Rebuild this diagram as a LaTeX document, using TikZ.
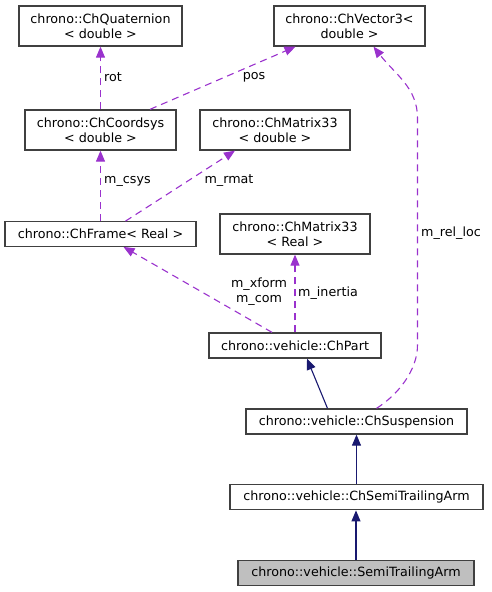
\documentclass[tikz,border=0pt]{standalone}
\usepackage{fontspec}
\setmainfont{DejaVu Sans}
\usepackage{xcolor}
\usetikzlibrary{arrows.meta,positioning,calc}
\definecolor{depviolet}{HTML}{9A32CD}
\definecolor{inhnavy}{HTML}{191970}
\definecolor{boxgray}{HTML}{404040}

\begin{document}
\begin{tikzpicture}[
    x=1pt, y=-1pt,
    cbox/.style={rectangle, draw=boxgray, line width=1.3pt, inner sep=0pt, align=center, font=\fontsize{12.7}{15}\selectfont},
    dep/.style={-{Triangle[length=11pt,width=9pt]}, depviolet, dashed, dash pattern=on 7pt off 5pt, line width=1.1pt},
    inh/.style={-{Triangle[length=11pt,width=9pt]}, inhnavy, line width=1.1pt},
    lbl/.style={font=\fontsize{12.7}{15}\selectfont, inner sep=1pt, align=center}
]
\useasboundingbox (0,0) rectangle (491,592);

% classes
\node[cbox, minimum width=163pt, minimum height=40pt] (quat) at (100.5, 26) {chrono::ChQuaternion\\< double >};
\node[cbox, minimum width=151pt, minimum height=40pt] (vec) at (349.5, 26) {chrono::ChVector3<\\double >};
\node[cbox, minimum width=151pt, minimum height=40pt] (csys) at (100.5, 130) {chrono::ChCoordsys\\< double >};
\node[cbox, minimum width=150pt, minimum height=40pt] (matd) at (275, 130) {chrono::ChMatrix33\\< double >};
\node[cbox, minimum width=191pt, minimum height=24.5pt] (frame) at (100.5, 234) {chrono::ChFrame< Real >};
\node[cbox, minimum width=150pt, minimum height=40pt] (matr) at (295, 234) {chrono::ChMatrix33\\< Real >};
\node[cbox, minimum width=172pt, minimum height=25pt] (part) at (295, 345.5) {chrono::vehicle::ChPart};
\node[cbox, minimum width=221pt, minimum height=25pt] (susp) at (356.5, 421.5) {chrono::vehicle::ChSuspension};
\node[cbox, minimum width=253pt, minimum height=25.5pt] (semi) at (356.5, 497) {chrono::vehicle::ChSemiTrailingArm};
\node[cbox, fill=gray!50, minimum width=236pt, minimum height=25.5pt] (arm) at (356, 573) {chrono::vehicle::SemiTrailingArm};

% members
\draw[dep] (csys.north) -- (quat.south);
\draw[dep] ([xshift=49.5pt]csys.north) -- ([xshift=-54pt]vec.south);
\draw[dep] (frame.north) -- (csys.south);
\draw[dep] ([xshift=25pt]frame.north) -- ([xshift=-40pt]matd.south);
\draw[dep] ([xshift=-23pt]part.north) -- ([xshift=23pt]frame.south);
\draw[dep] (part.north) -- (matr.south);
\coordinate (bendlow) at (417.5, 345);
\coordinate (bendup) at (417.5, 118);
\draw[dep] ([xshift=20pt]susp.north) .. controls +(22,-14) and +(0,25) .. (bendlow)
    -- (bendup) .. controls +(0,-30) and +(22,28) .. ([xshift=24pt]vec.south);

% inheritance
\draw[inh] ([xshift=-29pt]susp.north) -- ([xshift=12pt]part.south);
\draw[inh] (semi.north) -- (susp.south);
\draw[inh] (arm.north) -- ([xshift=-0.5pt]semi.south);

% labels
\node[lbl, anchor=west] (lrot) at (103, 77) {rot};
\node[lbl] (lpos) at (254, 77) {pos};
\node[lbl, anchor=west] (lcsys) at (103, 181) {m\_csys};
\node[lbl] (lrmat) at (229, 181) {m\_rmat};
\node[lbl] (lxform) at (259, 292) {m\_xform\\m\_com};
\node[lbl, anchor=west] (linertia) at (297, 293) {m\_inertia};
\node[lbl, anchor=west] (lrelloc) at (420, 233) {m\_rel\_loc};
\end{tikzpicture}
\end{document}
